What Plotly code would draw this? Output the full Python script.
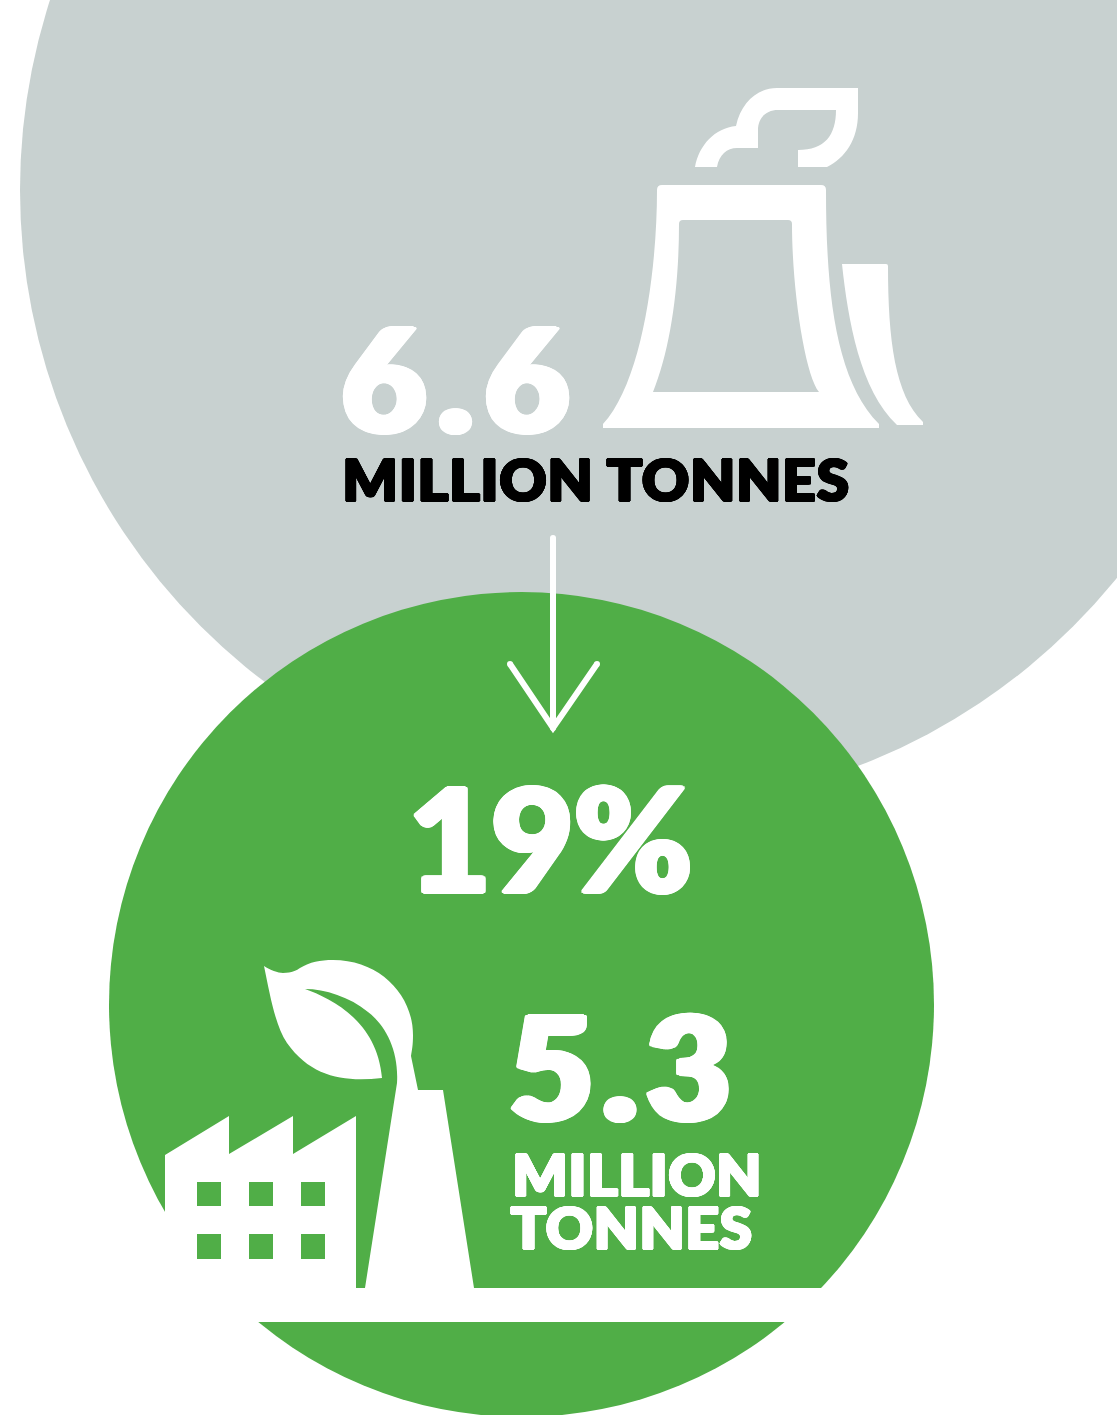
import plotly.graph_objects as go

# ---- content ----
before_value = ["6.6"]
before_unit = ["MILLION TONNES"]
change_pct = ["19%"]
after_value = ["5.3"]
after_unit = ["MILLION", "TONNES"]

GREY = "#C8D1D0"
GREEN = "#50AE47"
WHITE = "#FFFFFF"
FONT = "Lato"

# ---- decorative icon outlines (page pixels) ----
TOWER = ("M603,428 L603,424 C642,382 657,270 657,190 Q657,185 662,185 L821,185 Q826,185 826,190 "
         "C826,290 835,380 879,424 L879,428 Z "
         "M679,224 Q679,220 683,220 L788,220 Q792,220 792,224 C792,290 805,375 819,392 L653,392 "
         "C670,350 679,290 679,224 Z")
SIDE = ("M842,264 L886,264 Q888,264 888,266 C888,340 895,395 923,422 L923,425 L897,425 "
        "C860,390 848,320 842,264 Z")
SMOKE = ("M695,167 C699,145 715,128 736,126 C741,103 757,88 777,88 L858,88 L858,113 "
         "C858,140 845,158 827,167 L798,167 L798,150 C825,150 836,135 836,110 L778,110 "
         "C766,110 758,118 758,130 L758,148 L737,148 C727,148 719,155 717,167 Z")
FACTORY = ("M165,1155 L229,1116 L229,1154 L293,1116 L293,1154 L356,1116 L356,1288 L165,1288 Z")
PLANT = ("M264,966 C270,970 278,973 283,973 C292,973 297,970 300,968 C310,962 320,960 333,960 "
         "C380,960 413,995 413,1035 C413,1045 412,1050 411,1056 L418,1090 L443,1090 L474,1288 "
         "L365,1288 L397,1083 C399,1050 385,1025 368,1012 C350,997 325,989 305,989 "
         "C330,998 377,1020 382,1078 C345,1082 312,1078 287,1043 C275,1025 270,995 264,966 Z")
WINDOW_X = [(197, 221), (249, 273), (301, 325)]
WINDOW_Y = [(1182, 1206), (1234, 1259)]
ARROW_DOTS = [(553, 538), (510, 664), (597, 664), (553, 728)]

shapes = [
    dict(type="circle", x0=20, x1=1254, y0=-427, y1=807, fillcolor=GREY, line_width=0),
    dict(type="circle", x0=109, x1=934, y0=592, y1=1417, fillcolor=GREEN, line_width=0),
    dict(type="rect", x0=0, x1=1117, y0=1288, y1=1322, fillcolor=WHITE, line_width=0),
]
for p in (TOWER, SIDE, SMOKE, FACTORY, PLANT):
    shapes.append(dict(type="path", path=p, fillcolor=WHITE, line_width=0))
for x0, x1 in WINDOW_X:
    for y0, y1 in WINDOW_Y:
        shapes.append(dict(type="rect", x0=x0, x1=x1, y0=y0, y1=y1, fillcolor=GREEN, line_width=0))
shapes.append(dict(type="path", path="M553,538 L553,728 M510,664 L553,728 L597,664",
                   line=dict(color=WHITE, width=6), fillcolor="rgba(0,0,0,0)"))
for dx, dy in ARROW_DOTS:
    shapes.append(dict(type="circle", x0=dx - 3, x1=dx + 3, y0=dy - 3, y1=dy + 3,
                       fillcolor=WHITE, line_width=0))


def heavy(color, rx, ry):
    """CSS text-shadow outline that fattens the glyphs to the poster's black weight."""
    offsets = [(1, 0), (.92, .38), (.71, .71), (.38, .92), (0, 1), (-.38, .92), (-.71, .71), (-.92, .38),
               (-1, 0), (-.92, -.38), (-.71, -.71), (-.38, -.92), (0, -1), (.38, -.92), (.71, -.71), (.92, -.38)]
    parts = []
    for k in (1, .5):
        parts += [f"{ox * rx * k:.1f}px {oy * ry * k:.1f}px 0 {color}" for ox, oy in offsets]
    return ", ".join(parts)


def label(text, x, y, size, color, rx, ry):
    return dict(text=text, x=x, y=y, xref="x", yref="y", xanchor="center", yanchor="middle",
                showarrow=False,
                font=dict(family=FONT, size=size, color=color, weight=900, shadow=heavy(color, rx, ry)))


annotations = [
    label(before_value[0], 462, 376, 143, WHITE, 5, 2),
    label(before_unit[0], 596, 478, 58, "#000000", 1.5, 0.8),
    label(change_pct[0], 550, 836, 143, WHITE, 3, 2),
    label(after_value[0], 624.5, 1064.5, 143, WHITE, 5, 2),
    label(after_unit[0], 637, 1173, 58, WHITE, 1.5, 0.8),
    label(after_unit[1], 632, 1226, 58, WHITE, 1.5, 0.8),
]

# wider tracking on the glyph runs that are set loosely in the original
tracking = {"6.6": 13, "5.3": 10, "MILLION TONNES": 1.2, "MILLION": 1, "TONNES": 1}
spacing_js = "".join(
    f"document.querySelectorAll('.annotation-text').forEach(function(t){{"
    f"if(t.textContent==='{k}')t.style.letterSpacing='{v}px';}});"
    for k, v in tracking.items())

fig = go.Figure()
fig.update_layout(
    width=1117, height=1415, margin=dict(l=0, r=0, t=0, b=0),
    paper_bgcolor=WHITE, plot_bgcolor=WHITE, showlegend=False,
    xaxis=dict(range=[0, 1117], visible=False, fixedrange=True),
    yaxis=dict(range=[1415, 0], visible=False, fixedrange=True),
    shapes=shapes, annotations=annotations,
)
fig.write_html("out.html", config=dict(displayModeBar=False),
               post_script="document.body.style.margin='0';" + spacing_js)
